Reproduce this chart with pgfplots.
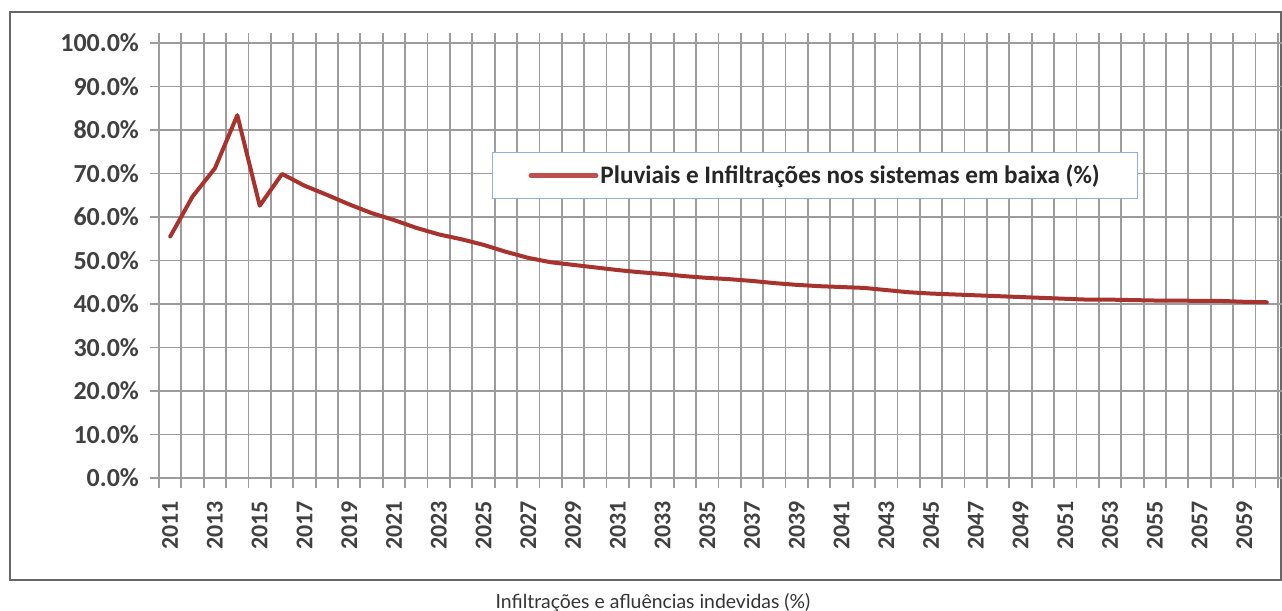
\documentclass[border=0pt]{standalone}
\usepackage{fontspec}
\setmainfont{Carlito}
\newfontfamily\capfont{Lato}
\usepackage{pgfplots}
\pgfplotsset{compat=1.18}
\definecolor{linered}{HTML}{A8322D}
\definecolor{legred}{HTML}{C0504D}
\definecolor{gridgray}{HTML}{9C9C9C}
\definecolor{txt}{HTML}{404040}
\definecolor{legblue}{HTML}{8DB4D6}
\begin{document}
\begin{tikzpicture}
\draw[black!60, line width=0.8pt] (5pt,15.5pt) rectangle (640.5pt,299.5pt);
\begin{axis}[
  at={(79.5pt,66.5pt)}, anchor=south west,
  scale only axis, width=559.5pt, height=217.5pt,
  xmin=2010.5, xmax=2060.5, ymin=0, ymax=100,
  axis line style={gridgray, line width=0.9pt},
  xtick={2011,2013,...,2059},
  minor xtick={2010.5,2011.5,...,2060.5},
  xminorgrids=true, ymajorgrids=true,
  grid style={gridgray, line width=0.9pt},
  minor grid style={gridgray, line width=0.9pt},
  tick align=outside,
  major tick length=4.5pt, minor tick length=5pt,
  major x tick style={draw=none},
  tick style={gridgray, line width=0.9pt},
  ytick={0,10,...,100},
  /pgf/number format/assume math mode=true,
  xticklabel={\pgfmathprintnumber[int detect,1000 sep={}]{\tick}},
  yticklabel={\pgfmathprintnumber[fixed,fixed zerofill,precision=1]{\tick}\%},
  xticklabel style={rotate=90, anchor=east, font=\bfseries\fontsize{12}{12}\selectfont, text=txt, xshift=-3.5pt},
  yticklabel style={font=\bfseries\fontsize{13}{13}\selectfont, text=txt, xshift=-2pt},
  legend style={at={(0.2976,0.749)}, anchor=north west, draw=legblue, line width=0.6pt, fill=white,
    inner xsep=18pt, inner ysep=4pt, font=\bfseries\fontsize{12.6}{12.6}\selectfont, text=black!85,
    nodes={inner xsep=1pt}},
  legend image code/.code={\draw[legred, line width=2.4pt] (0pt,0pt) -- (32.5pt,0pt);},
]
\addplot[linered, line width=2pt, line join=round, line cap=round] coordinates {
(2011,55.5) (2012,64.7) (2013,71.2) (2014,83.4) (2015,62.6) (2016,69.9)
(2017,67.2) (2018,65.1) (2019,62.9) (2020,60.9) (2021,59.3) (2022,57.5)
(2023,56.0) (2024,54.9) (2025,53.6) (2026,52.0) (2027,50.6) (2028,49.6)
(2029,49.0) (2030,48.4) (2031,47.8) (2032,47.3) (2033,46.9) (2034,46.4)
(2035,46.0) (2036,45.7) (2037,45.3) (2038,44.8) (2039,44.4) (2040,44.1)
(2041,43.9) (2042,43.7) (2043,43.2) (2044,42.7) (2045,42.4) (2046,42.2)
(2047,42.0) (2048,41.8) (2049,41.6) (2050,41.4) (2051,41.2) (2052,41.0)
(2053,41.0) (2054,40.9) (2055,40.8) (2056,40.8) (2057,40.7) (2058,40.7)
(2059,40.5) (2060,40.4)
};
\addlegendentry{Pluviais e Infiltrações nos sistemas em baixa (\%)}
\end{axis}
\node[font=\capfont\fontsize{9.7}{11}\selectfont, text=black!80] at (326.5pt,4pt) {Infiltrações e afluências indevidas (\%)};
\pgfresetboundingbox
\path (0pt,0pt) rectangle (641pt,305.5pt);
\end{tikzpicture}
\end{document}
